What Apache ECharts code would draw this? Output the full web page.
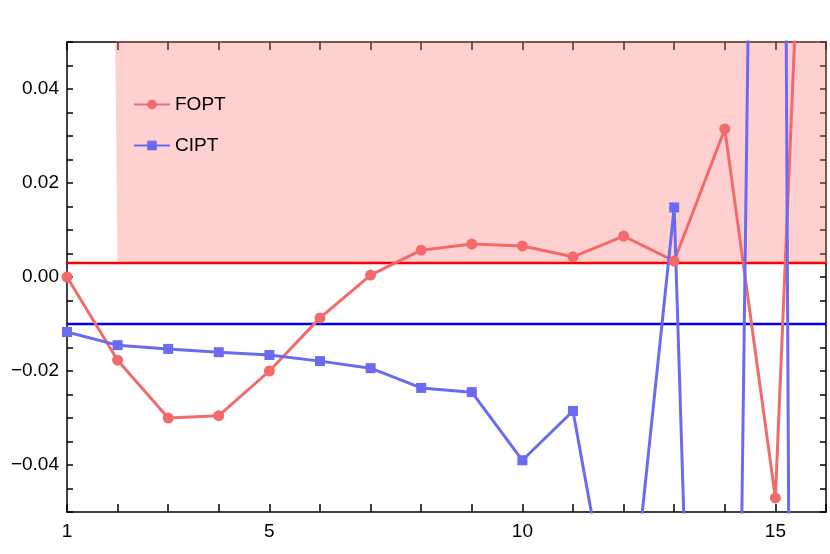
<!DOCTYPE html>
<html>
<head>
<meta charset="utf-8">
<script src="https://cdn.jsdelivr.net/npm/echarts@6/dist/echarts.min.js"></script>
<style>html,body{margin:0;padding:0;background:#fff}#chart{width:830px;height:554px}</style>
</head>
<body>
<div id="chart"></div>
<script>
const xs = [1, 2, 3, 4, 5, 6, 7, 8, 9, 10, 11, 12, 13, 14, 15, 16];
const fopt = [0.0, -0.0177, -0.030, -0.0295, -0.020, -0.0087, 0.0004, 0.0057, 0.0070, 0.0066, 0.0043, 0.0087, 0.0034, 0.0315, -0.047, 0.21];
const cipt = [-0.0117, -0.0145, -0.0153, -0.016, -0.0166, -0.0179, -0.0194, -0.0236, -0.0245, -0.039, -0.0285, -0.088, 0.0148, -0.33, 0.5, -1.6];
const foptLevel = 0.003, foptBand = [0.0015, 0.0045];
const ciptLevel = -0.010;
const xEnds = [1, 16];

const red = '#f26b6b', blue = '#6b6bf2';
const pairs = arr => arr.map((v, i) => [xs[i], v]);
const axisLine = { show: true, onZero: false, lineStyle: { color: '#000', width: 1.5 } };
const font = { fontFamily: 'Liberation Sans', fontSize: 19, color: '#000' };
const yLabels = { '-40': '\u22120.04', '-20': '\u22120.02', '0': '0.00', '20': '0.02', '40': '0.04' };

const chart = echarts.init(document.getElementById('chart'));
chart.setOption({
  animation: false,
  grid: { left: 67, right: 4, top: 42, bottom: 42 },
  legend: {
    left: 128, top: 90, orient: 'vertical', itemGap: 22, itemWidth: 36, itemHeight: 12,
    textStyle: { fontFamily: 'Liberation Sans', fontSize: 19, color: '#000' },
    data: ['FOPT', 'CIPT']
  },
  xAxis: [
    { type: 'value', min: 1, max: 16, interval: 1, axisLine,
      axisTick: { inside: true, length: 8, lineStyle: { width: 1.5 } },
      splitLine: { show: false },
      axisLabel: { ...font, margin: 10, formatter: v => ([1, 5, 10, 15].includes(v) ? v : '') } },
    { type: 'value', position: 'top', min: 1, max: 16, interval: 1, axisLine,
      axisTick: { inside: true, length: 8, lineStyle: { width: 1.5 } },
      splitLine: { show: false }, axisLabel: { show: false } }
  ],
  yAxis: [
    { type: 'value', min: -0.05, max: 0.05, interval: 0.005, axisLine,
      axisTick: { inside: true, length: 6, lineStyle: { width: 1.5 } },
      splitLine: { show: false },
      axisLabel: { ...font, margin: 8, formatter: v => yLabels[String(Math.round(v * 1000))] || '' } },
    { type: 'value', position: 'right', min: -0.05, max: 0.05, interval: 0.005, axisLine,
      axisTick: { inside: true, length: 6, lineStyle: { width: 1.5 } },
      splitLine: { show: false }, axisLabel: { show: false } }
  ],
  series: [
    { name: 'bandLow', type: 'line', stack: 'band', silent: true, symbol: 'none',
      data: xEnds.map(x => [x, foptBand[0]]), lineStyle: { opacity: 0 } },
    { name: 'bandHigh', type: 'line', stack: 'band', silent: true, symbol: 'none',
      data: xEnds.map(x => [x, foptBand[1] - foptBand[0]]), lineStyle: { opacity: 0 },
      areaStyle: { color: 'rgba(255,120,120,0.35)', opacity: 1 } },
    { name: 'foptLevel', type: 'line', silent: true, symbol: 'none',
      data: xEnds.map(x => [x, foptLevel]), lineStyle: { color: '#ff0000', width: 2.5 } },
    { name: 'ciptLevel', type: 'line', silent: true, symbol: 'none',
      data: xEnds.map(x => [x, ciptLevel]), lineStyle: { color: '#0000ee', width: 2.5 } },
    { name: 'FOPT', type: 'line', data: pairs(fopt), clip: true,
      symbol: 'circle', symbolSize: 11,
      lineStyle: { color: red, width: 3 }, itemStyle: { color: red } },
    { name: 'CIPT', type: 'line', data: pairs(cipt), clip: true,
      symbol: 'rect', symbolSize: 10,
      lineStyle: { color: blue, width: 3 }, itemStyle: { color: blue } }
  ]
});
</script>
</body>
</html>
